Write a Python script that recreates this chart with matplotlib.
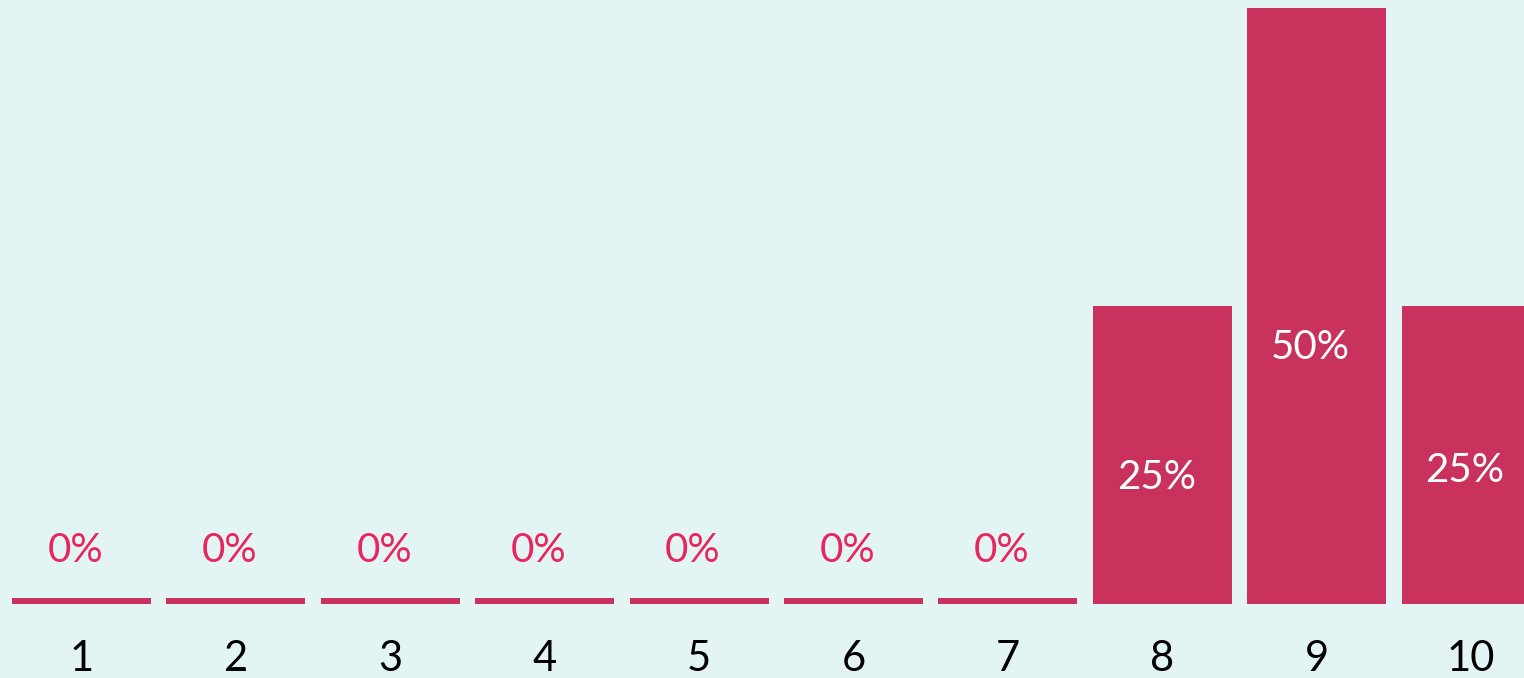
import matplotlib.pyplot as plt
import numpy as np

# ── Data ──────────────────────────────────────────────────────────────────────
CATEGORIES = ["1", "2", "3", "4", "5", "6", "7", "8", "9", "10"]
SHARES = [0, 0, 0, 0, 0, 0, 0, 25, 50, 25]

# ── Style ─────────────────────────────────────────────────────────────────────
BG = "#E3F4F4"
BAR = "#C8325C"
ZERO_TXT = "#E8265E"
MIN_STUB = 0.5            # zero bars are drawn as a thin stub
LABEL_Y = {7: 10.6, 8: 21.5, 9: 11.2}   # in-bar label heights
ZERO_LABEL_Y = 4.45

plt.rcParams["font.family"] = ["Lato", "DejaVu Sans"]

fig = plt.figure(figsize=(15.24, 6.78), dpi=100, facecolor=BG)
ax = fig.add_axes([0, 0.1091, 1, 0.879])
ax.set_facecolor(BG)

x = np.arange(len(CATEGORIES))
heights = [max(v, MIN_STUB) for v in SHARES]
ax.bar(x, heights, width=0.9, color=BAR, linewidth=0)

for i, v in enumerate(SHARES):
    color = ZERO_TXT if v == 0 else "white"
    y = ZERO_LABEL_Y if v == 0 else LABEL_Y[i]
    ax.text(i - 0.04, y, f"{v}%", ha="center", va="center",
            fontsize=29, color=color)

ax.set_xlim(-0.528, 9.342)
ax.set_ylim(0, 50)
ax.set_xticks(x)
ax.set_xticklabels(CATEGORIES, fontsize=30, color="black")
ax.tick_params(axis="x", length=0, pad=26)
ax.set_yticks([])
for s in ax.spines.values():
    s.set_visible(False)

fig.savefig("out.png", dpi=100, facecolor=BG)
